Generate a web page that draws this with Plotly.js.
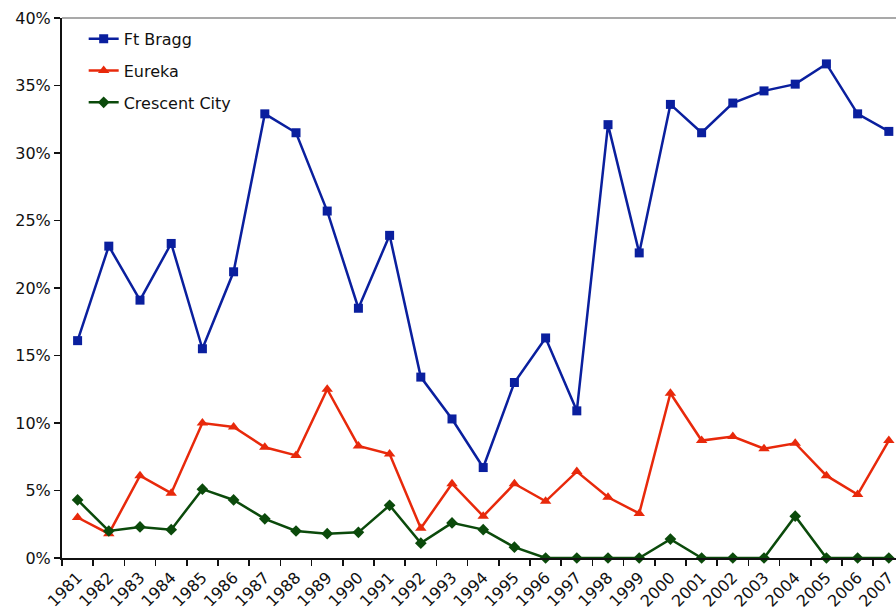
<!DOCTYPE html>
<html>
<head>
<meta charset="utf-8">
<script src="https://cdn.plot.ly/plotly-3.0.1.min.js"></script>
<style>html,body{margin:0;padding:0;background:#fff;}#chart{width:896px;height:613px;}</style>
</head>
<body>
<div id="chart"></div>
<script>
const years = ["1981","1982","1983","1984","1985","1986","1987","1988","1989","1990","1991","1992","1993","1994","1995","1996","1997","1998","1999","2000","2001","2002","2003","2004","2005","2006","2007"];
const ftBragg = [16.1,23.1,19.1,23.3,15.5,21.2,32.9,31.5,25.7,18.5,23.9,13.4,10.3,6.7,13.0,16.3,10.9,32.1,22.6,33.6,31.5,33.7,34.6,35.1,36.6,32.9,31.6];
const eureka = [3.0,1.8,6.1,4.8,10.0,9.7,8.2,7.6,12.5,8.3,7.7,2.2,5.5,3.1,5.5,4.2,6.4,4.5,3.3,12.2,8.7,9.0,8.1,8.5,6.1,4.7,8.7];
const crescentCity = [4.3,2.0,2.3,2.1,5.1,4.3,2.9,2.0,1.8,1.9,3.9,1.1,2.6,2.1,0.8,0,0,0,0,1.4,0,0,0,3.1,0,0,0];
const yTickVals = [0,5,10,15,20,25,30,35,40];
const yTickText = ["0%","5%","10%","15%","20%","25%","30%","35%","40%"];

const FONT = "DejaVu Sans, Verdana, sans-serif";
function series(name, y, color, symbol, size, grp) {
  return {
    type: "scatter", mode: "lines+markers", name: name, x: years, y: y,
    legendgroup: grp, cliponaxis: false,
    line: {color: color, width: 2.5},
    marker: {color: color, symbol: symbol, size: size}
  };
}
const data = [
  series("Ft Bragg", ftBragg, "#0A1F9E", "square", 9, "a"),
  series("Eureka", eureka, "#E8290B", "triangle-up", 10, "b"),
  series("Crescent City", crescentCity, "#0B4A0B", "diamond", 9, "c")
];
const layout = {
  width: 896, height: 613,
  margin: {l: 62, r: 0, t: 18, b: 55, pad: 0},
  paper_bgcolor: "#fff", plot_bgcolor: "#fff",
  font: {family: FONT, size: 16, color: "#111"},
  showlegend: true,
  legend: {x: 0.026, y: 0.993, xanchor: "left", yanchor: "top",
    bgcolor: "rgba(0,0,0,0)", font: {family: FONT, size: 16, color: "#111"},
    traceorder: "grouped", tracegroupgap: 8, itemwidth: 30},
  xaxis: {
    type: "category", range: [-0.5, 26.23], showgrid: false, zeroline: false,
    showline: true, linecolor: "#111", linewidth: 2,
    ticks: "outside", tickson: "boundaries", ticklen: 6, tickcolor: "#111", tickwidth: 1.5,
    tickangle: -45, ticklabelstandoff: 2, tickfont: {family: FONT, size: 16, color: "#111"}
  },
  yaxis: {
    range: [0, 40], showgrid: false, zeroline: false,
    showline: true, linecolor: "#111", linewidth: 2,
    ticks: "outside", ticklen: 6, tickcolor: "#111", tickwidth: 1.5,
    tickvals: yTickVals, ticktext: yTickText,
    tickfont: {family: FONT, size: 16, color: "#111"}
  },
  shapes: [{type: "line", xref: "paper", yref: "paper", x0: 0, x1: 1, y0: 1, y1: 1,
    line: {color: "#8c8c8c", width: 1.5}}]
};
Plotly.newPlot("chart", data, layout, {displayModeBar: false, staticPlot: true});
</script>
</body>
</html>
